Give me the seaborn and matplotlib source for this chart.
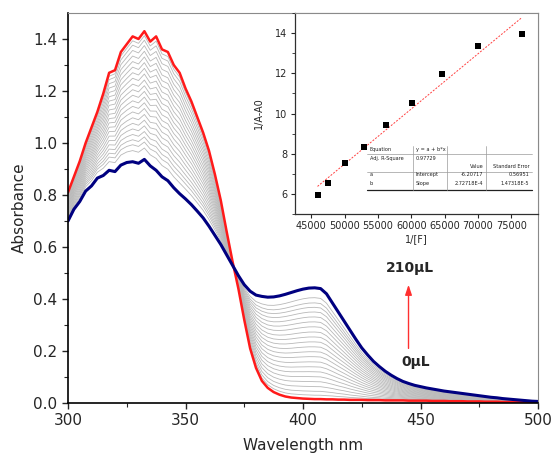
import numpy as np
import pandas as pd
import matplotlib
matplotlib.use("Agg")
import matplotlib.pyplot as plt
import seaborn as sns

# ---------------- data ----------------
wavelength = [300, 302.5, 305, 307.5, 310, 312.5, 315, 317.5, 320, 322.5, 325, 327.5, 330, 332.5,
              335, 337.5, 340, 342.5, 345, 347.5, 350, 352.5, 355, 357.5, 360, 362.5, 365, 367.5,
              370, 372.5, 375, 377.5, 380, 382.5, 385, 387.5, 390, 392.5, 395, 397.5, 400, 402.5,
              405, 407.5, 410, 412.5, 415, 417.5, 420, 422.5, 425, 427.5, 430, 432.5, 435, 437.5,
              440, 442.5, 445, 447.5, 450, 452.5, 455, 457.5, 460, 462.5, 465, 467.5, 470, 472.5,
              475, 477.5, 480, 482.5, 485, 487.5, 490, 492.5, 495, 497.5, 500]

abs_0uL = [0.81, 0.87, 0.93, 1.00, 1.06, 1.12, 1.19, 1.27, 1.28, 1.35, 1.38, 1.41, 1.40, 1.43,
           1.39, 1.41, 1.36, 1.35, 1.30, 1.27, 1.21, 1.16, 1.10, 1.04, 0.97, 0.88, 0.78, 0.66,
           0.545, 0.44, 0.32, 0.21, 0.135, 0.085, 0.058, 0.042, 0.032, 0.025, 0.021, 0.019, 0.017, 0.016,
           0.015, 0.015, 0.014, 0.014, 0.013, 0.013, 0.012, 0.012, 0.012, 0.011, 0.011, 0.011, 0.010, 0.010,
           0.010, 0.010, 0.009, 0.009, 0.009, 0.009, 0.008, 0.008, 0.008, 0.007, 0.007, 0.007, 0.006, 0.006,
           0.006, 0.005, 0.005, 0.005, 0.004, 0.004, 0.004, 0.003, 0.003, 0.003, 0.003]

abs_210uL = [0.70, 0.745, 0.775, 0.815, 0.835, 0.865, 0.875, 0.895, 0.89, 0.915, 0.925, 0.928, 0.922, 0.937,
             0.912, 0.895, 0.87, 0.855, 0.828, 0.805, 0.785, 0.763, 0.738, 0.712, 0.68, 0.645, 0.61, 0.57,
             0.53, 0.49, 0.455, 0.43, 0.415, 0.41, 0.407, 0.408, 0.412, 0.418, 0.425, 0.432, 0.438, 0.442,
             0.443, 0.44, 0.42, 0.385, 0.35, 0.315, 0.28, 0.245, 0.212, 0.185, 0.16, 0.14, 0.122, 0.107,
             0.094, 0.083, 0.075, 0.068, 0.063, 0.058, 0.054, 0.050, 0.046, 0.043, 0.040, 0.037, 0.034, 0.031,
             0.028, 0.025, 0.022, 0.020, 0.017, 0.015, 0.013, 0.011, 0.009, 0.007, 0.006]

# absorbance at 405 nm of the intermediate titration spectra (grey)
gray_abs405 = [0.405, 0.385, 0.368, 0.350, 0.331, 0.312, 0.293, 0.273, 0.254, 0.235, 0.216,
               0.197, 0.178, 0.158, 0.139, 0.120, 0.101, 0.082, 0.063, 0.045, 0.030]

# inset: double reciprocal plot
inv_F = [45950, 47550, 50000, 52900, 56200, 60050, 64560, 70000, 76600]
inv_dA = [5.97, 6.55, 7.54, 8.31, 9.42, 10.51, 11.96, 13.35, 13.98]

table_rows = [
    ["Equation", "y = a + b*x", "", ""],
    ["Adj. R-Square", "0.97729", "", ""],
    ["", "", "Value", "Standard Error"],
    ["a", "Intercept", "-6.20717", "0.56951"],
    ["b", "Slope", "2.72718E-4", "1.47318E-5"],
]

# ---------------- style ----------------
sns.set_style("ticks")
plt.rcParams['font.family'] = ['DejaVu Sans']

fig = plt.figure(figsize=(5.54, 4.54), dpi=100)
ax = fig.add_axes([68 / 554, 1 - 403 / 454, (538 - 68) / 554, (403 - 13) / 454])

wl = np.array(wavelength)
red = np.array(abs_0uL)
blue = np.array(abs_210uL)
i405 = wavelength.index(405)

rows = []
for k, v in enumerate(gray_abs405):
    f = (v - red[i405]) / (blue[i405] - red[i405])
    for w, a in zip(wl, red + f * (blue - red)):
        rows.append({"wl": w, "A": a, "curve": k})
gray_df = pd.DataFrame(rows)

sns.lineplot(data=gray_df, x="wl", y="A", units="curve", estimator=None, sort=False,
             color="#b8b8b8", linewidth=0.6, ax=ax)
sns.lineplot(x=wl, y=red, color="#ff1a1a", linewidth=1.8, ax=ax, sort=False)
sns.lineplot(x=wl, y=blue, color="#000080", linewidth=2.2, ax=ax, sort=False)

ax.set_xlim(300, 500)
ax.set_ylim(0, 1.5)
ax.set_xticks([300, 350, 400, 450, 500])
ax.set_xticks([325, 375, 425, 475], minor=True)
ax.set_yticks(np.arange(0, 1.41, 0.2))
ax.set_yticks(np.arange(0.1, 1.5, 0.2), minor=True)
ax.set_yticklabels([f"{v:.1f}" for v in np.arange(0, 1.41, 0.2)])
ax.tick_params(axis="both", which="major", labelsize=11, length=4, width=1, direction="out")
ax.tick_params(axis="both", which="minor", length=3, width=0.8, direction="out")
for s in ["top", "right"]:
    ax.spines[s].set_visible(True)
    ax.spines[s].set_color("#8a8a8a")
    ax.spines[s].set_linewidth(0.8)
for s in ["left", "bottom"]:
    ax.spines[s].set_color("black")
    ax.spines[s].set_linewidth(1.2)
ax.set_xlabel("Wavelength nm", fontsize=11, labelpad=7)
ax.set_ylabel("Absorbance", fontsize=11, labelpad=5)

ax.annotate("", xy=(444.9, 0.455), xytext=(444.9, 0.21),
            arrowprops=dict(arrowstyle="-|>,head_length=0.6,head_width=0.2",
                            color="#ff3030", lw=1.0, shrinkA=0, shrinkB=0))
ax.text(445.6, 0.518, "210μL", fontsize=10, fontweight="bold", ha="center", va="center")
ax.text(447.8, 0.158, "0μL", fontsize=10, fontweight="bold", ha="center", va="center")

# ---------------- inset ----------------
axi = fig.add_axes([294.5 / 554, 1 - 214 / 454, (538 - 294.5) / 554, (214 - 13) / 454])
axi.set_facecolor("white")
coef = np.polyfit(inv_F, inv_dA, 1)
xf = np.array([min(inv_F), max(inv_F)])
sns.lineplot(x=xf, y=np.polyval(coef, xf), color="#ff4040", linewidth=0.7,
             linestyle=(0, (2, 1.5)), ax=axi)
sns.scatterplot(x=inv_F, y=inv_dA, marker="s", color="black", s=18, edgecolor="black",
                linewidth=0, ax=axi, zorder=3)
axi.set_xlim(42500, 79000)
axi.set_ylim(5, 15)
axi.set_xticks(np.arange(45000, 75001, 5000))
axi.set_yticks([6, 8, 10, 12, 14])
axi.set_yticks([5, 7, 9, 11, 13, 15], minor=True)
axi.tick_params(axis="both", which="major", labelsize=7, length=3, width=0.8, direction="out", pad=2)
axi.tick_params(axis="both", which="minor", length=2, width=0.6, direction="out")
for s in ["top", "right"]:
    axi.spines[s].set_visible(True)
    axi.spines[s].set_color("#8a8a8a")
    axi.spines[s].set_linewidth(0.8)
for s in ["left", "bottom"]:
    axi.spines[s].set_color("#303030")
    axi.spines[s].set_linewidth(0.9)
axi.set_xlabel("1/[F]", fontsize=7, labelpad=2)
axi.set_ylabel("1/A-A0", fontsize=7, labelpad=8)

# table in inset
col_x = [0.2965, 0.485, 0.625, 0.786, 0.974]
row_y = [0.322, 0.274, 0.237, 0.196, 0.153]
tx = dict(transform=axi.transAxes, fontsize=3.6, va="center", color="#202020")
for r, row in enumerate(table_rows):
    for c, txt in enumerate(row):
        if not txt:
            continue
        if c >= 2:
            axi.text(col_x[c + 1] - 0.01, row_y[r], txt, ha="right", **tx)
        else:
            axi.text(col_x[c] + 0.012, row_y[r], txt, ha="left", **tx)
lk = dict(transform=axi.transAxes, color="#9a9a9a", linewidth=0.5)
axi.plot([col_x[0], col_x[-1]], [0.2985, 0.2985], **lk)
axi.plot([col_x[0], col_x[-1]], [0.209, 0.209], **lk)
axi.plot([col_x[0], col_x[-1]], [0.118, 0.118], transform=axi.transAxes, color="#202020", linewidth=0.9)
for cx in col_x[1:4]:
    axi.plot([cx, cx], [0.118, 0.340], **lk)

fig.savefig("out.png", dpi=100)
